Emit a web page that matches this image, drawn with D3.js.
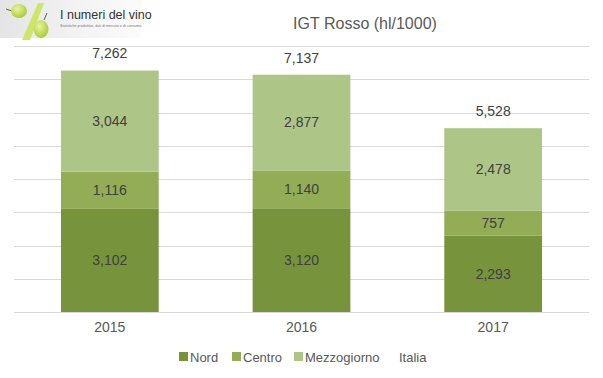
<!DOCTYPE html>
<html>
<head>
<meta charset="utf-8">
<script src="https://cdn.jsdelivr.net/npm/d3@7"></script>
<style>
  body { margin: 0; background: #fff; }
  svg { font-family: "Liberation Sans", Arial, sans-serif; display: block; }
</style>
</head>
<body>
<svg width="603" height="378"></svg>
<script>
const years = ['2015', '2016', '2017'];
const nord = [3102, 3120, 2293];
const centro = [1116, 1140, 757];
const mezzogiorno = [3044, 2877, 2478];
const italia = [7262, 7137, 5528];
const seriesNames = ['Nord', 'Centro', 'Mezzogiorno'];
const colors = ['#77933c', '#92ad55', '#adc687'];

const svg = d3.select('svg');
const width = 603, height = 378;
const margin = {top: 46, right: 14, bottom: 66, left: 14};

const rows = years.map((y, i) => ({year: y, Nord: nord[i], Centro: centro[i], Mezzogiorno: mezzogiorno[i], Italia: italia[i]}));
const stacked = d3.stack().keys(seriesNames)(rows);

const x = d3.scaleBand()
  .domain(years)
  .range([margin.left, width - margin.right])
  .paddingInner(0.49)
  .paddingOuter(0.245);

const y = d3.scaleLinear()
  .domain([0, 8000])
  .range([height - margin.bottom, margin.top]);

// gridlines
svg.append('g')
  .selectAll('line')
  .data(y.ticks(8))
  .enter().append('line')
  .attr('x1', margin.left)
  .attr('x2', width - margin.right)
  .attr('y1', d => Math.round(y(d)) + 0.5)
  .attr('y2', d => Math.round(y(d)) + 0.5)
  .attr('stroke', '#d9d9d9')
  .attr('stroke-width', 1);

// bars
const layer = svg.append('g')
  .selectAll('g')
  .data(stacked)
  .enter().append('g')
  .attr('fill', (d, i) => colors[i]);

layer.selectAll('rect')
  .data(d => d)
  .enter().append('rect')
  .attr('x', d => x(d.data.year))
  .attr('y', d => y(d[1]))
  .attr('width', x.bandwidth())
  .attr('height', d => y(d[0]) - y(d[1]));

// segment labels
layer.selectAll('text')
  .data(d => d)
  .enter().append('text')
  .attr('x', d => x(d.data.year) + x.bandwidth() / 2)
  .attr('y', d => (y(d[0]) + y(d[1])) / 2)
  .attr('dy', '0.35em')
  .attr('text-anchor', 'middle')
  .attr('font-size', 14)
  .attr('fill', '#404040')
  .text(d => d3.format(',')(d[1] - d[0]));

// totals (Italia)
svg.append('g')
  .selectAll('text')
  .data(rows)
  .enter().append('text')
  .attr('x', d => x(d.year) + x.bandwidth() / 2)
  .attr('y', d => y(d.Italia) - 17)
  .attr('dy', '0.35em')
  .attr('text-anchor', 'middle')
  .attr('font-size', 14)
  .attr('fill', '#404040')
  .text(d => d3.format(',')(d.Italia));

// x axis labels
const xAxis = svg.append('g')
  .attr('transform', `translate(0,${height - margin.bottom})`)
  .call(d3.axisBottom(x).tickSize(0).tickPadding(10));
xAxis.select('.domain').remove();
xAxis.selectAll('text')
  .attr('font-family', '"Liberation Sans", Arial, sans-serif')
  .attr('font-size', 14)
  .attr('fill', '#595959');

// title
svg.append('text')
  .attr('x', 365)
  .attr('y', 29)
  .attr('text-anchor', 'middle')
  .attr('font-size', 16)
  .attr('fill', '#595959')
  .text('IGT Rosso (hl/1000)');

// legend
const legendItems = [
  {name: 'Nord', color: colors[0], x: 179},
  {name: 'Centro', color: colors[1], x: 232},
  {name: 'Mezzogiorno', color: colors[2], x: 294},
  {name: 'Italia', color: null, x: 388}
];
const legend = svg.append('g').attr('transform', 'translate(0,357)');
legend.selectAll('rect')
  .data(legendItems.filter(d => d.color))
  .enter().append('rect')
  .attr('x', d => d.x)
  .attr('y', -5)
  .attr('width', 9)
  .attr('height', 9)
  .attr('fill', d => d.color);
legend.selectAll('text')
  .data(legendItems)
  .enter().append('text')
  .attr('x', d => d.x + 11)
  .attr('y', 0)
  .attr('dy', '0.35em')
  .attr('font-size', 13)
  .attr('fill', '#595959')
  .text(d => d.name);

// logo
const defs = svg.append('defs');
const bg = defs.append('linearGradient').attr('id', 'logoBg').attr('x1', 0).attr('x2', 1).attr('y1', 0).attr('y2', 0);
bg.append('stop').attr('offset', '0%').attr('stop-color', '#e4e4e4');
bg.append('stop').attr('offset', '60%').attr('stop-color', '#f4f4f4');
bg.append('stop').attr('offset', '100%').attr('stop-color', '#fbfbfb');
const grape = defs.append('radialGradient').attr('id', 'grape').attr('cx', '40%').attr('cy', '35%').attr('r', '65%');
grape.append('stop').attr('offset', '0%').attr('stop-color', '#eaf5a0');
grape.append('stop').attr('offset', '100%').attr('stop-color', '#a9cc3a');

const logo = svg.append('g');
logo.append('rect').attr('x', 0).attr('y', 0).attr('width', 141).attr('height', 38).attr('fill', 'url(#logoBg)');
logo.append('path').attr('d', 'M22,40 L30,40 L44,3 L38,3 Z').attr('fill', '#cde66a');
logo.append('line').attr('x1', 6).attr('y1', 9).attr('x2', 12).attr('y2', 11).attr('stroke', '#7a5a2a').attr('stroke-width', 1);
logo.append('ellipse').attr('cx', 19).attr('cy', 11).attr('rx', 8).attr('ry', 7).attr('fill', 'url(#grape)');
logo.append('line').attr('x1', 47).attr('y1', 13).attr('x2', 44).attr('y2', 20).attr('stroke', '#7a5a2a').attr('stroke-width', 1);
logo.append('ellipse').attr('cx', 41).attr('cy', 29).attr('rx', 7.5).attr('ry', 9).attr('fill', 'url(#grape)');
logo.append('text').attr('x', 60).attr('y', 19).attr('font-size', 12.5).attr('fill', '#333')
  .text('I numeri del vino');
logo.append('text').attr('x', 60).attr('y', 27).attr('font-size', 3.6).attr('fill', '#777')
  .text('Statistiche produttive, dati di mercato e di consumo.');
</script>
</body>
</html>
